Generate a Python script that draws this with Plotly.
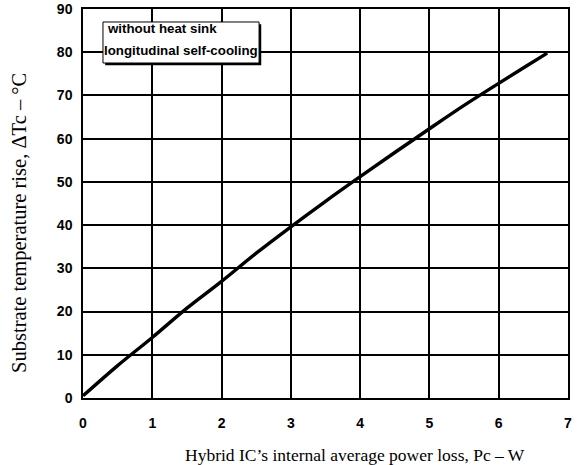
import plotly.graph_objects as go

# Data
power_w = [0, 0.5, 1, 1.5, 2, 2.5, 3, 3.5, 4, 4.5, 5, 5.5, 6, 6.4, 6.7]
delta_tc = [0.5, 7.5, 14, 20.8, 27, 33.5, 39.6, 45.5, 51.2, 56.8, 62.3, 67.7, 72.8, 76.8, 79.8]
x_ticks = [0, 1, 2, 3, 4, 5, 6, 7]
y_ticks = [0, 10, 20, 30, 40, 50, 60, 70, 80, 90]
legend_lines = ["without heat sink", "longitudinal self-cooling"]
x_title = "Hybrid IC’s internal average power loss, Pc – W"
y_title = "Substrate temperature rise, ΔTc – °C"

tick_font = dict(family="Liberation Sans, Arial, sans-serif", size=14, color="black", weight="bold")
xtitle_font = dict(family="Liberation Serif, Times New Roman, serif", size=17.5, color="black")
ytitle_font = dict(family="Liberation Serif, Times New Roman, serif", size=20.5, color="black")
box_font = dict(family="Liberation Sans Narrow, Arial Narrow, Liberation Sans, sans-serif",
                size=13.3, color="black", weight="bold")

fig = go.Figure()
fig.add_trace(go.Scatter(x=power_w, y=delta_tc, mode="lines",
                         line=dict(color="black", width=3.4, shape="spline"),
                         showlegend=False, hoverinfo="skip"))

axis_common = dict(showgrid=True, gridcolor="black", gridwidth=1.5,
                   showline=True, linecolor="black", linewidth=1.5, mirror=True,
                   ticks="outside", tickcolor="rgba(0,0,0,0)", tickfont=tick_font,
                   zeroline=False, automargin=False, ticklabeloverflow="allow")
fig.update_xaxes(range=[0, 7], tickvals=x_ticks, ticklen=11, **axis_common)
fig.update_yaxes(range=[0, 90], tickvals=y_ticks, ticklen=6, **axis_common)

# axis titles
fig.add_annotation(xref="paper", yref="paper", x=0.561, y=-0.1465, xanchor="center", yanchor="middle",
                   text=x_title, showarrow=False, font=xtitle_font)
fig.add_annotation(xref="paper", yref="paper", x=-0.130, y=0.45, xanchor="center", yanchor="middle",
                   text=y_title, showarrow=False, font=ytitle_font, textangle=-90)

# legend box with shadow
x0, x1, y0, y1 = 0.0412, 0.363, 0.8612, 0.9666
fig.add_shape(type="rect", xref="paper", yref="paper", x0=x0 + 0.0045, x1=x1 + 0.0045,
              y0=y0 - 0.0055, y1=y1 - 0.0055, fillcolor="black", line=dict(width=0), layer="above")
fig.add_shape(type="rect", xref="paper", yref="paper", x0=x0, x1=x1, y0=y0, y1=y1,
              fillcolor="white", line=dict(color="black", width=1), layer="above")
fig.add_annotation(xref="paper", yref="paper", x=0.045, y=0.9486, xanchor="left", yanchor="middle",
                   text=legend_lines[0], showarrow=False, font=box_font)
fig.add_annotation(xref="paper", yref="paper", x=0.040, y=0.8946, xanchor="left", yanchor="middle",
                   text=legend_lines[1], showarrow=False, font=box_font)

fig.update_layout(width=581, height=465, margin=dict(l=83, r=13, t=9, b=67, autoexpand=False),
                  paper_bgcolor="white", plot_bgcolor="white")
fig.write_html("out.html", config={"displayModeBar": False},
               post_script="document.body.style.margin='0';document.body.style.overflow='hidden';")
